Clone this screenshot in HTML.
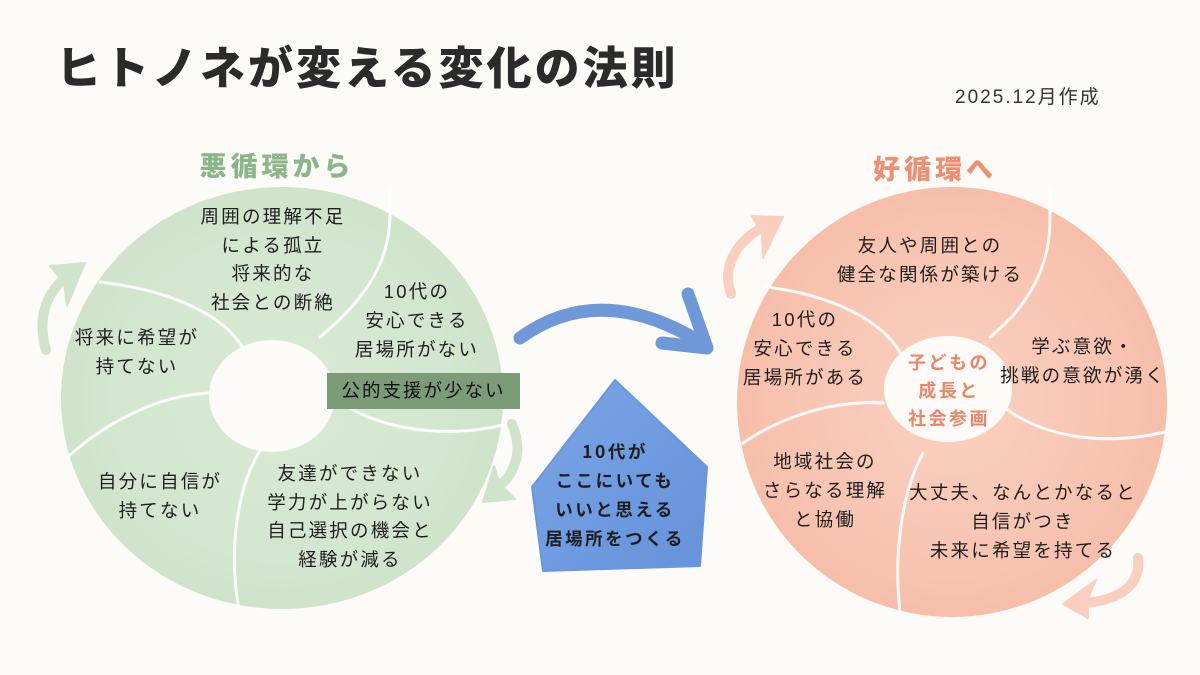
<!DOCTYPE html>
<html>
<head>
<meta charset="utf-8">
<style>
  html,body{margin:0;padding:0;}
  body{width:1200px;height:675px;background:#fcfbf7;position:relative;overflow:hidden;
       font-family:"Liberation Sans","Noto Sans CJK JP",sans-serif;color:#1e1e1e;}
  svg{position:absolute;left:0;top:0;}
  .t{position:absolute;width:320px;text-align:center;font-size:18.5px;letter-spacing:2.2px;line-height:29px;white-space:nowrap;
     font-family:"Liberation Sans","Noto Sans CJK JP",sans-serif;}
  .title{position:absolute;left:56px;top:36px;font-size:45px;font-weight:900;letter-spacing:3px;color:#2b2b2b;line-height:58px;
     font-family:"Noto Sans CJK JP",sans-serif;white-space:nowrap;}
  .date{position:absolute;left:955px;top:86px;font-size:19px;letter-spacing:2px;color:#333;line-height:24px;white-space:nowrap;}
  .h{position:absolute;width:300px;text-align:center;font-size:27px;font-weight:900;letter-spacing:4px;line-height:34px;
     font-family:"Noto Sans CJK JP",sans-serif;}
  .box{position:absolute;left:327px;top:373px;width:193px;height:36px;background:#7c9c79;text-align:center;line-height:36px;
     font-size:18.5px;letter-spacing:2px;color:#111;}
  .b{font-weight:700;font-family:"Noto Sans CJK JP",sans-serif;}
</style>
</head>
<body>
<svg width="1200" height="675" viewBox="0 0 1200 675">
  <defs>
    <radialGradient id="gg" cx="50%" cy="50%" r="55%">
      <stop offset="0%" stop-color="#d9ead5"/>
      <stop offset="70%" stop-color="#d3e6cf"/>
      <stop offset="100%" stop-color="#cde2c8"/>
    </radialGradient>
    <radialGradient id="og" cx="50%" cy="50%" r="55%">
      <stop offset="0%" stop-color="#fad0c1"/>
      <stop offset="70%" stop-color="#f8c4b1"/>
      <stop offset="100%" stop-color="#f6bca7"/>
    </radialGradient>
    <linearGradient id="bg" x1="0" y1="0" x2="1" y2="1">
      <stop offset="0%" stop-color="#7aa5e6"/>
      <stop offset="100%" stop-color="#6592da"/>
    </linearGradient>
  </defs>

  <!-- green donut -->
  <path fill="url(#gg)" fill-rule="evenodd"
    d="M61,398 a221,211 0 1,0 442,0 a221,211 0 1,0 -442,0 Z M209,396 a63,56 0 1,0 126,0 a63,56 0 1,0 -126,0 Z"/>
  <g fill="none" stroke="#ffffff" stroke-width="3" stroke-linecap="round" opacity="0.9">
    <path d="M320,337 C365,300 390,262 390,215 L390,190"/>
    <path d="M244,350 C225,315 170,290 100,282"/>
    <path d="M210,393 C160,395 110,420 70,455"/>
    <path d="M262,448 C240,480 228,540 238,605"/>
    <path d="M350,408 C390,432 460,440 520,420"/>
  </g>

  <!-- orange donut -->
  <path fill="url(#og)" fill-rule="evenodd"
    d="M737,402 a215,215 0 1,0 430,0 a215,215 0 1,0 -430,0 Z M884,389 a64,53 0 1,0 128,0 a64,53 0 1,0 -128,0 Z"/>
  <g fill="none" stroke="#ffffff" stroke-width="3" stroke-linecap="round" opacity="0.9">
    <path d="M990,337 C1030,305 1050,265 1050,220 L1050,190"/>
    <path d="M903,358 C885,320 830,295 767,287"/>
    <path d="M883,403 C830,400 780,418 743,443"/>
    <path d="M923,453 C903,490 893,550 900,612"/>
    <path d="M1008,410 C1050,440 1110,445 1165,432"/>
  </g>

  <!-- green circular arrows -->
  <g fill="#cfe4cb" stroke="#cfe4cb">
    <path d="M46,350 C36,315 48,290 70,274" fill="none" stroke-width="10" stroke-linecap="round"/>
    <polygon points="50,266 85,263 67,306 64,283" stroke-width="2" stroke-linejoin="round"/>
    <path d="M512,424 C524,452 515,476 494,490" fill="none" stroke-width="10" stroke-linecap="round"/>
    <polygon points="494,466 500,484 515,499 483,502" stroke-width="2" stroke-linejoin="round"/>
  </g>
  <!-- orange circular arrows -->
  <g fill="#fbcfc0" stroke="#fbcfc0">
    <path d="M731,294 C721,265 738,240 765,226" fill="none" stroke-width="10" stroke-linecap="round"/>
    <polygon points="752,216 783,217 763,258 762,235" stroke-width="2" stroke-linejoin="round"/>
    <path d="M1138,558 C1141,585 1120,600 1085,603" fill="none" stroke-width="10" stroke-linecap="round"/>
    <polygon points="1096,580 1088,598 1088,618 1063,604" stroke-width="2" stroke-linejoin="round"/>
  </g>

  <!-- blue arrow -->
  <g fill="none" stroke="#6f98d8" stroke-width="13" stroke-linecap="round" stroke-linejoin="round">
    <path d="M520,338 Q600,280 702,343"/>
    <polyline points="688,294 707,348 662,343"/>
  </g>

  <!-- house -->
  <polygon points="615,380 707,467 700,566 543,571 532,487" fill="url(#bg)" stroke="#6a96dc" stroke-width="2" stroke-linejoin="round"/>
</svg>

<div class="title">ヒトノネが変える変化の法則</div>
<div class="date">2025.12月作成</div>

<div class="h" style="left:127px;top:148px;color:#8db58a;">悪循環から</div>
<div class="h" style="left:785px;top:151px;color:#ef8f72;">好循環へ</div>

<!-- green texts -->
<div class="t" style="left:113px;top:203px;line-height:28.5px;">周囲の理解不足<br>による孤立<br>将来的な<br>社会との断絶</div>
<div class="t" style="left:257px;top:277px;">10代の<br>安心できる<br>居場所がない</div>
<div class="t" style="left:-23px;top:323px;">将来に希望が<br>持てない</div>
<div class="box">公的支援が少ない</div>
<div class="t" style="left:0px;top:467px;">自分に自信が<br>持てない</div>
<div class="t" style="left:190px;top:460px;line-height:28.5px;">友達ができない<br>学力が上がらない<br>自己選択の機会と<br>経験が減る</div>

<!-- house text -->
<div class="t b" style="left:455px;top:437px;font-size:17.5px;letter-spacing:2.5px;">10代が<br>ここにいても<br>いいと思える<br>居場所をつくる</div>

<!-- orange texts -->
<div class="t" style="left:770px;top:231px;">友人や周囲との<br>健全な関係が築ける</div>
<div class="t" style="left:645px;top:305px;">10代の<br>安心できる<br>居場所がある</div>
<div class="t b" style="left:789px;top:348px;line-height:28px;color:#ee8468;font-size:18px;letter-spacing:2.5px;">子どもの<br>成長と<br>社会参画</div>
<div class="t" style="left:923px;top:332px;">学ぶ意欲・<br>挑戦の意欲が湧く</div>
<div class="t" style="left:665px;top:447px;">地域社会の<br>さらなる理解<br>と協働</div>
<div class="t" style="left:863px;top:478px;">大丈夫、なんとかなると<br>自信がつき<br>未来に希望を持てる</div>
</body>
</html>
